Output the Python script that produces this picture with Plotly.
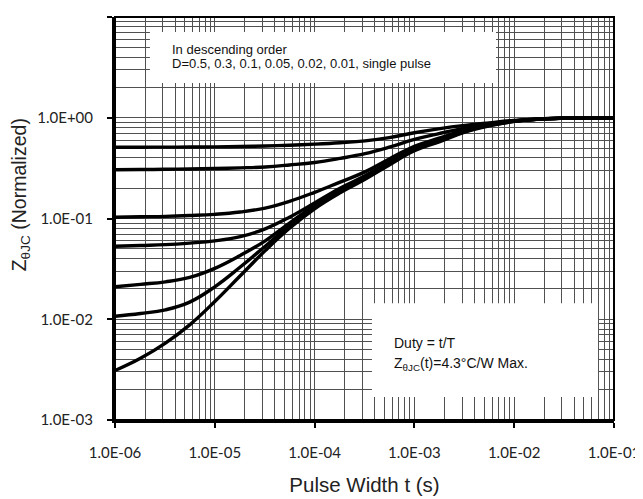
import plotly.graph_objects as go

# Pulse width (s)
pulse_width = [1e-6, 1.8e-6, 3.2e-6, 5.6e-6, 1e-5, 1.8e-5, 3.2e-5, 5.6e-5,
               1e-4, 1.8e-4, 3.2e-4, 5.6e-4, 1e-3, 1.8e-3, 3.2e-3, 5.6e-3,
               1e-2, 1.8e-2, 3.2e-2, 5.6e-2, 1e-1]

# Normalized thermal impedance per duty cycle
z_d050 = [0.51, 0.51, 0.511, 0.512, 0.514, 0.518, 0.524, 0.534, 0.547, 0.565, 0.59,
          0.635, 0.71, 0.78, 0.84, 0.89, 0.94, 0.975, 0.99, 1.0, 1.0]
z_d030 = [0.305, 0.306, 0.308, 0.31, 0.313, 0.318, 0.325, 0.34, 0.36, 0.395, 0.44,
          0.51, 0.61, 0.70, 0.79, 0.87, 0.93, 0.97, 0.99, 1.0, 1.0]
z_d010 = [0.103, 0.104, 0.105, 0.107, 0.11, 0.116, 0.127, 0.148, 0.182, 0.23, 0.29,
          0.39, 0.52, 0.63, 0.76, 0.86, 0.93, 0.97, 0.99, 1.0, 1.0]
z_d005 = [0.053, 0.054, 0.055, 0.057, 0.06, 0.066, 0.079, 0.103, 0.143, 0.20, 0.265,
          0.365, 0.50, 0.61, 0.75, 0.855, 0.93, 0.97, 0.99, 1.0, 1.0]
z_d002 = [0.021, 0.0222, 0.0235, 0.026, 0.032, 0.043, 0.06, 0.09, 0.135, 0.19, 0.255,
          0.355, 0.49, 0.60, 0.74, 0.85, 0.925, 0.97, 0.99, 1.0, 1.0]
z_d001 = [0.0107, 0.0114, 0.0124, 0.0148, 0.021, 0.033, 0.053, 0.085, 0.13, 0.185, 0.25,
          0.35, 0.48, 0.59, 0.73, 0.84, 0.92, 0.97, 0.99, 1.0, 1.0]
z_single = [0.0031, 0.0041, 0.0058, 0.0088, 0.015, 0.027, 0.048, 0.08, 0.125, 0.18, 0.245,
            0.34, 0.47, 0.58, 0.72, 0.83, 0.92, 0.97, 0.99, 1.0, 1.0]

series = [z_d050, z_d030, z_d010, z_d005, z_d002, z_d001, z_single]
series_names = ["D=0.5", "D=0.3", "D=0.1", "D=0.05", "D=0.02", "D=0.01", "single pulse"]

x_tickvals = [1e-6, 1e-5, 1e-4, 1e-3, 1e-2, 1e-1]
x_ticktext = ["1.0E-06", "1.0E-05", "1.0E-04", "1.0E-03", "1.0E-02", "1.0E-01"]
y_tickvals = [1e-3, 1e-2, 1e-1, 1e0, 1e1]
y_ticktext = ["1.0E-03", "1.0E-02", "1.0E-01", "1.0E+00", "1.0E+01"]

fig = go.Figure()
for name, vals in zip(series_names, series):
    fig.add_trace(go.Scatter(
        x=pulse_width, y=vals, mode="lines", name=name,
        line=dict(color="black", width=3.4, shape="spline", smoothing=1.2),
        showlegend=False, hoverinfo="skip",
    ))

grid_color = "#505050"
tick_font = dict(family="Lato", size=15, color="#222")

fig.update_xaxes(
    type="log", range=[-6, -1], automargin=False,
    tickvals=x_tickvals, ticktext=x_ticktext, tickfont=tick_font,
    ticks="outside", ticklen=5, tickwidth=2, tickcolor="black",
    ticklabelstandoff=12,
    showline=True, linewidth=3, linecolor="black",
    showgrid=True, gridcolor=grid_color, gridwidth=1,
    minor=dict(dtick="D1", showgrid=True, gridcolor=grid_color, gridwidth=1, ticks=""),
    title=dict(text="Pulse Width t (s)", font=dict(family="Liberation Sans", size=20.5, color="#222"), standoff=18),
    zeroline=False,
)
fig.update_yaxes(
    type="log", range=[-3, 1], automargin=False,
    tickvals=y_tickvals, ticktext=y_ticktext, tickfont=tick_font,
    ticks="outside", ticklen=5, tickwidth=2, tickcolor="black",
    ticklabelstandoff=11,
    showline=True, linewidth=3, linecolor="black",
    showgrid=True, gridcolor=grid_color, gridwidth=1,
    minor=dict(dtick="D1", showgrid=True, gridcolor=grid_color, gridwidth=1, ticks=""),
    zeroline=False,
)

shapes = [
    dict(type="rect", xref="paper", yref="paper", x0=0.070, x1=0.7635, y0=0.836, y1=0.963,
         fillcolor="white", line=dict(width=0), layer="above"),
    dict(type="rect", xref="paper", yref="paper", x0=0.515, x1=0.968, y0=0.057, y1=0.290,
         fillcolor="white", line=dict(width=0), layer="above"),
    dict(type="rect", xref="paper", yref="paper", x0=0, x1=1, y0=0, y1=1,
         fillcolor="rgba(0,0,0,0)", line=dict(color="black", width=2), layer="above"),
]
box1_font = dict(family="Liberation Sans", size=13, color="#111")
box2_font = dict(family="Liberation Sans", size=14, color="#111")
annotations = [
    dict(xref="paper", yref="paper", x=0.110, y=0.920, xanchor="left", yanchor="middle",
         text="In descending order", showarrow=False, font=box1_font),
    dict(xref="paper", yref="paper", x=0.110, y=0.885, xanchor="left", yanchor="middle",
         text="D=0.5, 0.3, 0.1, 0.05, 0.02, 0.01, single pulse", showarrow=False, font=box1_font),
    dict(xref="paper", yref="paper", x=0.555, y=0.191, xanchor="left", yanchor="middle",
         text="Duty = t/T", showarrow=False, font=box2_font),
    dict(xref="paper", yref="paper", x=0.555, y=0.140, xanchor="left", yanchor="middle",
         text="Z<sub>θJC</sub>(t)=4.3°C/W Max.", showarrow=False, font=box2_font),
    dict(xref="paper", yref="paper", x=-0.19, y=0.558, xanchor="center", yanchor="middle",
         text="Z<sub>θJC</sub> (Normalized)", textangle=-90, showarrow=False,
         font=dict(family="Liberation Sans", size=19.5, color="#222")),
]

# The page body adds an 8 px offset, so margins are shifted to place the plot area
fig.update_layout(
    width=643, height=499,
    margin=dict(l=107, r=37, t=9, b=87),
    paper_bgcolor="white", plot_bgcolor="white",
    shapes=shapes, annotations=annotations,
)

fig.write_html("out.html")
